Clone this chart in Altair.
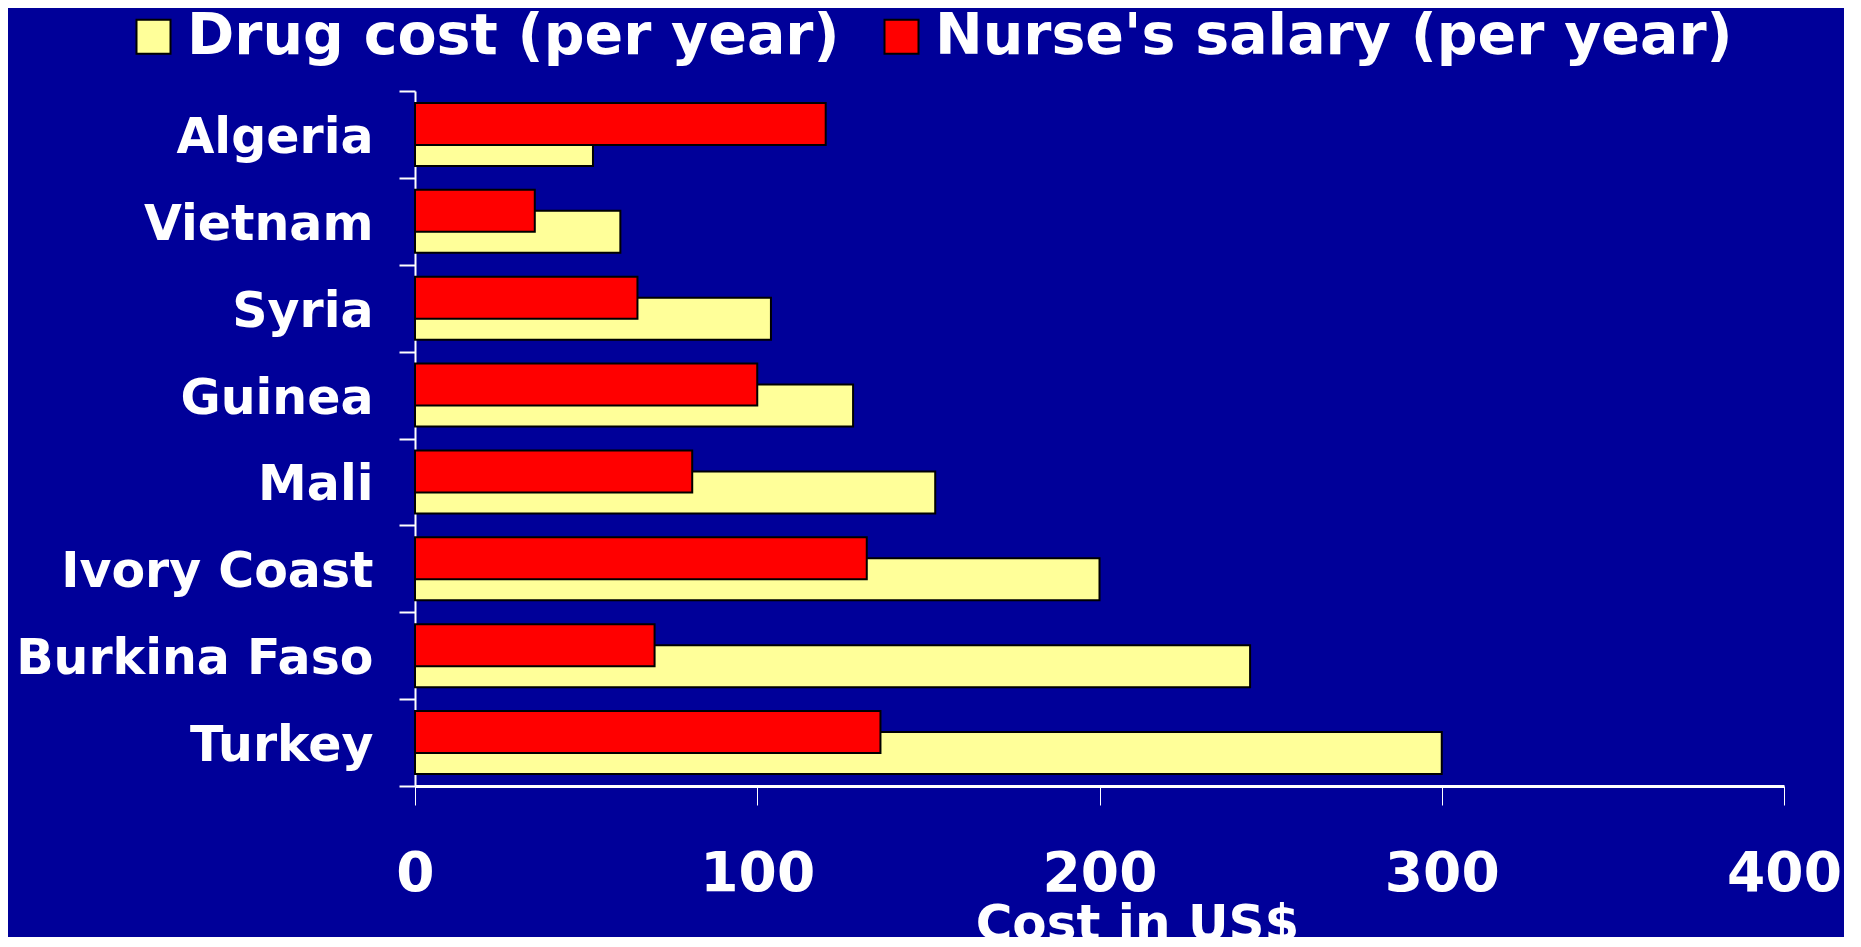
import altair as alt
import pandas as pd

countries = ["Algeria", "Vietnam", "Syria", "Guinea", "Mali", "Ivory Coast", "Burkina Faso", "Turkey"]
drug_cost = [52, 60, 104, 128, 152, 200, 244, 300]
nurse_salary = [120, 35, 65, 100, 81, 132, 70, 136]
series_names = ["Drug cost (per year)", "Nurse's salary (per year)"]
series_colors = ["#FFFF99", "#FF0000"]
x_ticks = [0, 100, 200, 300, 400]

rows = []
for c, d, n in zip(countries, drug_cost, nurse_salary):
    rows.append({"country": c, "series": series_names[0], "value": d})
    rows.append({"country": c, "series": series_names[1], "value": n})
df = pd.DataFrame(rows)

FONT = "DejaVu Sans"

color = alt.Color(
    "series:N",
    scale=alt.Scale(domain=series_names, range=series_colors),
    legend=alt.Legend(
        title=None,
        orient="none",
        legendX=-290,
        legendY=-83,
        direction="horizontal",
        symbolType="square",
        symbolSize=1156,
        symbolStrokeColor="black",
        symbolStrokeWidth=2,
        symbolOpacity=1,
        labelFont=FONT,
        labelFontWeight="bold",
        labelFontSize=57,
        labelColor="white",
        labelOffset=5,
        labelLimit=3000,
        columnPadding=33,
        padding=0,
    ),
)

x = alt.X(
    "value:Q",
    scale=alt.Scale(domain=[0, 400], nice=False),
    title="Cost in US$",
    axis=alt.Axis(
        values=x_ticks,
        grid=False,
        domainColor="white",
        domainWidth=3,
        tickColor="white",
        tickSize=19,
        tickWidth=1,
        labelColor="white",
        labelFont=FONT,
        labelFontWeight="bold",
        labelFontSize=55,
        labelPadding=42,
        labelFlush=False,
        titleColor="white",
        titleFont=FONT,
        titleFontWeight="bold",
        titleFontSize=50,
        titleX=722,
        titleY=153,
        titleBaseline="alphabetic",
        titleAlign="center",
    ),
)

y = alt.Y(
    "country:N",
    sort=countries,
    scale=alt.Scale(paddingInner=0, paddingOuter=0),
    title=None,
    axis=alt.Axis(
        grid=False,
        domainColor="white",
        domainWidth=2,
        tickColor="white",
        tickSize=16,
        tickWidth=2,
        tickBand="extent",
        labelColor="white",
        labelFont=FONT,
        labelFontWeight="bold",
        labelFontSize=49,
        labelPadding=26,
        labelLimit=3000,
        labelOffset=3,
    ),
)

base = alt.Chart(df)

drug = base.transform_filter(alt.datum.series == series_names[0]).mark_bar(
    height=42, yOffset=10.5, stroke="black", strokeWidth=2, opacity=1
).encode(x=x, y=y, color=color)

nurse = base.transform_filter(alt.datum.series == series_names[1]).mark_bar(
    height=42, yOffset=-10.5, stroke="black", strokeWidth=2, opacity=1
).encode(x=x, y=y, color=color)

chart = (
    alt.layer(drug, nurse)
    .properties(
        width=1369,
        height=695,
        padding={"left": 407, "top": 83, "right": 60, "bottom": 151},
        autosize=alt.AutoSizeParams(type="none"),
    )
    .configure(background="#000099")
    .configure_view(strokeWidth=0)
)

chart.save("out.html", embed_options={"renderer": "svg", "actions": False})
